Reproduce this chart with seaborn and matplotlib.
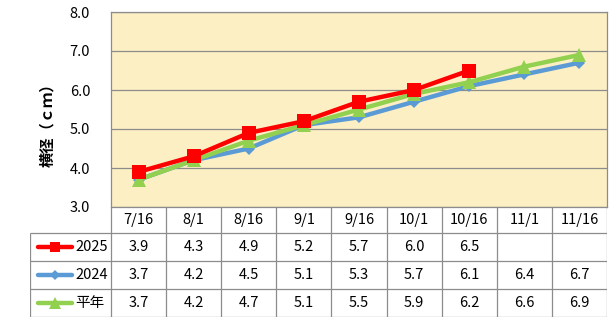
import numpy as np
import pandas as pd
import matplotlib
matplotlib.use("Agg")
import matplotlib.pyplot as plt
import seaborn as sns

# --- data -------------------------------------------------------------
dates = ["7/16", "8/1", "8/16", "9/1", "9/16", "10/1", "10/16", "11/1", "11/16"]
series_names = ["2025", "2024", "平年"]
v2025 = [3.9, 4.3, 4.9, 5.2, 5.7, 6.0, 6.5, np.nan, np.nan]
v2024 = [3.7, 4.2, 4.5, 5.1, 5.3, 5.7, 6.1, 6.4, 6.7]
v_normal = [3.7, 4.2, 4.7, 5.1, 5.5, 5.9, 6.2, 6.6, 6.9]
y_ticks = [3.0, 4.0, 5.0, 6.0, 7.0, 8.0]
y_label = "横径（ｃｍ）"

values = {"2025": v2025, "2024": v2024, "平年": v_normal}

df = pd.DataFrame({
    "pos": list(range(len(dates))) * len(series_names),
    "date": dates * len(series_names),
    "series": [s for s in series_names for _ in dates],
    "value": v2025 + v2024 + v_normal,
})

styles = {
    "2025": dict(color="#FF0000", marker="s", ms=9.5, key_ms=7.5, lw=3.2),
    "2024": dict(color="#5B9BD5", marker="D", ms=6.5, key_ms=5.5, lw=3.2),
    "平年": dict(color="#92D050", marker="^", ms=10, key_ms=8.5, lw=3.2),
}
draw_order = ["2024", "平年", "2025"]

# --- theme ------------------------------------------------------------
sns.set_theme(style="white")
plt.rcParams["font.family"] = ["Noto Sans CJK JP", "DejaVu Sans"]

W, H = 616, 326
GRID = "#8C8C8C"
fig = plt.figure(figsize=(W / 100, H / 100), dpi=100)


def fx(px):
    return px / W


def fy(py):
    return 1 - py / H


plot_l, plot_r, plot_t, plot_b = 111, 607, 12, 207
tab_l, tab_b = 30, 317

# --- main plot --------------------------------------------------------
ax = fig.add_axes([fx(plot_l), fy(plot_b), fx(plot_r) - fx(plot_l), fy(plot_t) - fy(plot_b)])
ax.set_facecolor("#FDEFC4")

for name in draw_order:
    st = styles[name]
    sub = df[df["series"] == name].dropna()
    sns.lineplot(data=sub, x="pos", y="value", ax=ax, color=st["color"],
                 marker=st["marker"], markersize=st["ms"], linewidth=st["lw"],
                 markeredgewidth=0, markeredgecolor=st["color"],
                 legend=False, sort=False, zorder=3)

ax.set_xlim(-0.5, len(dates) - 0.5)
ax.set_ylim(y_ticks[0], y_ticks[-1])
ax.set_yticks(y_ticks)
ax.set_yticklabels([f"{t:.1f}" for t in y_ticks])
ax.set_xticks([])
ax.set_xlabel("")
ax.set_ylabel("")
ax.tick_params(axis="y", length=0, pad=15, labelsize=10.5, labelcolor="black")
ax.yaxis.grid(True, color=GRID, linewidth=0.9)
ax.set_axisbelow(True)
for sp in ax.spines.values():
    sp.set_color(GRID)
    sp.set_linewidth(0.9)

fig.text(fx(47), fy(121), y_label, rotation=90, ha="center", va="center",
         fontsize=11, fontweight="bold", color="black")

# --- data table -------------------------------------------------------
colw = (plot_r - plot_l) / len(dates)
x_left = -0.5 - (plot_l - tab_l) / colw
tab = fig.add_axes([fx(tab_l), fy(tab_b), fx(plot_r) - fx(tab_l), fy(plot_b) - fy(tab_b)])
tab.set_xlim(x_left, len(dates) - 0.5)
row_edges = [0, 26, 54, 82, 110]
tab.set_ylim(row_edges[-1], 0)
tab.axis("off")

lkw = dict(color=GRID, linewidth=0.9, solid_capstyle="butt")
for k in range(len(dates) + 1):
    tab.plot([k - 0.5, k - 0.5], [0, row_edges[-1]], **lkw)
tab.plot([x_left, x_left], [row_edges[1], row_edges[-1]], **lkw)
for yv in row_edges[1:]:
    tab.plot([x_left, len(dates) - 0.5], [yv, yv], **lkw)

fs = 10.5
hdr_mid = (row_edges[0] + row_edges[1]) / 2
for i, d in enumerate(dates):
    tab.text(i, hdr_mid, d, ha="center", va="center", fontsize=fs, color="black")

for r, name in enumerate(series_names):
    ymid = (row_edges[r + 1] + row_edges[r + 2]) / 2
    st = styles[name]
    kx0 = x_left + (38 - tab_l) / colw
    kx1 = x_left + (72 - tab_l) / colw
    tab.plot([kx0, (kx0 + kx1) / 2, kx1], [ymid, ymid, ymid], color=st["color"],
             linewidth=st["lw"], solid_capstyle="round", marker=st["marker"],
             markersize=st["key_ms"], markeredgewidth=0, markevery=[1])
    tab.text(x_left + (75 - tab_l) / colw, ymid, name, ha="left", va="center",
             fontsize=fs, color="black")
    for i, v in enumerate(values[name]):
        if not np.isnan(v):
            tab.text(i, ymid, f"{v:.1f}", ha="center", va="center",
                     fontsize=fs, color="black")

fig.savefig("out.png", dpi=100, facecolor="white")
